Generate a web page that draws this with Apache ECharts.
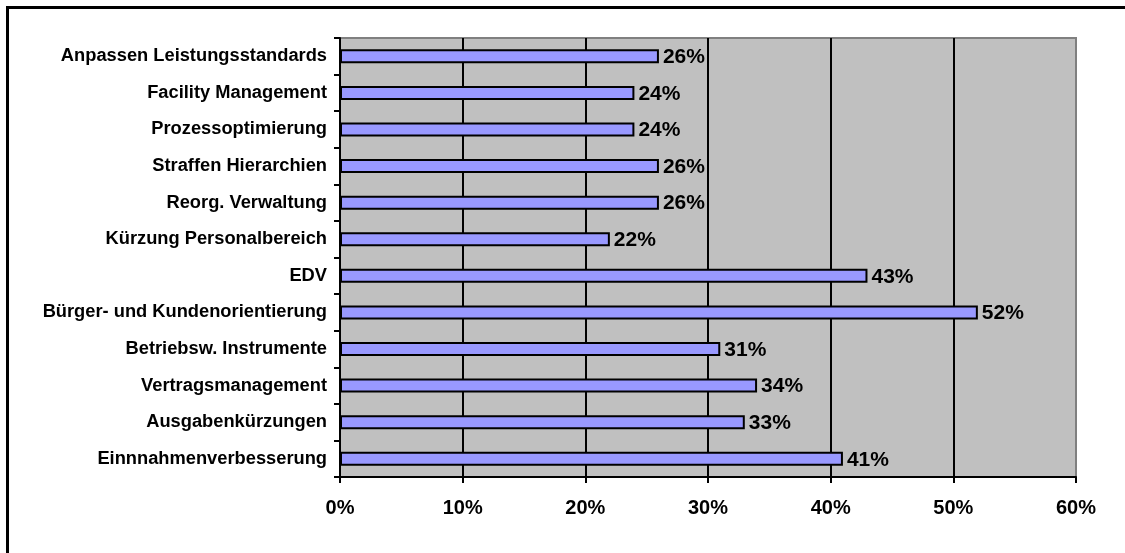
<!DOCTYPE html>
<html>
<head>
<meta charset="utf-8">
<script src="https://cdn.jsdelivr.net/npm/echarts@6/dist/echarts.min.js"></script>
<style>
  html, body { margin: 0; padding: 0; background: #fff; }
  #chart { width: 1125px; height: 553px; }
</style>
</head>
<body>
<div id="chart"></div>
<script>
// Maßnahmen, von oben nach unten
const categories = [
  'Anpassen Leistungsstandards',
  'Facility Management',
  'Prozessoptimierung',
  'Straffen Hierarchien',
  'Reorg. Verwaltung',
  'Kürzung Personalbereich',
  'EDV',
  'Bürger- und Kundenorientierung',
  'Betriebsw. Instrumente',
  'Vertragsmanagement',
  'Ausgabenkürzungen',
  'Einnnahmenverbesserung'
];
// Anteile in Prozent
const values = [26, 24, 24, 26, 26, 22, 43, 52, 31, 34, 33, 41];
// Achsenbereich
const axisMin = 0;
const axisMax = 60;
const axisStep = 10;

const FONT = '"Liberation Sans", Arial, sans-serif';

const chart = echarts.init(document.getElementById('chart'), null, { renderer: 'canvas' });

chart.setOption({
  animation: false,
  backgroundColor: '#ffffff',
  graphic: [
    {
      type: 'polyline',
      shape: { points: [[7.5, 560], [7.5, 7.5], [1130, 7.5]] },
      style: { stroke: '#000', lineWidth: 3, fill: null },
      z: 100
    }
  ],
  grid: {
    left: 340,
    top: 38,
    width: 736,
    height: 439,
    show: true,
    backgroundColor: '#c0c0c0',
    borderColor: '#808080',
    borderWidth: 2
  },
  xAxis: {
    type: 'value',
    min: axisMin,
    max: axisMax,
    interval: axisStep,
    axisLine: { show: true, lineStyle: { color: '#000', width: 2 } },
    axisTick: { show: true, length: 6, lineStyle: { color: '#000', width: 2 } },
    splitLine: {
      show: true,
      showMinLine: false,
      showMaxLine: false,
      lineStyle: { color: '#000', width: 2 }
    },
    axisLabel: {
      formatter: '{value}%',
      color: '#000',
      fontFamily: FONT,
      fontWeight: 'bold',
      fontSize: 20,
      margin: 21
    }
  },
  yAxis: {
    type: 'category',
    data: categories,
    inverse: true,
    axisLine: { show: true, lineStyle: { color: '#000', width: 2 } },
    axisTick: { show: true, length: 6, lineStyle: { color: '#000', width: 2 } },
    splitLine: { show: false },
    axisLabel: {
      color: '#000',
      fontFamily: FONT,
      fontWeight: 'bold',
      fontSize: 18.3,
      margin: 13
    }
  },
  series: [
    {
      type: 'bar',
      data: values,
      barWidth: 14,
      itemStyle: {
        color: '#9999ff',
        borderColor: '#000',
        borderWidth: 2
      },
      label: {
        show: true,
        position: 'right',
        distance: 4,
        offset: [0, 1],
        formatter: '{c}%',
        color: '#000',
        fontFamily: FONT,
        fontWeight: 'bold',
        fontSize: 21
      },
      z: 5
    }
  ]
});
</script>
</body>
</html>
